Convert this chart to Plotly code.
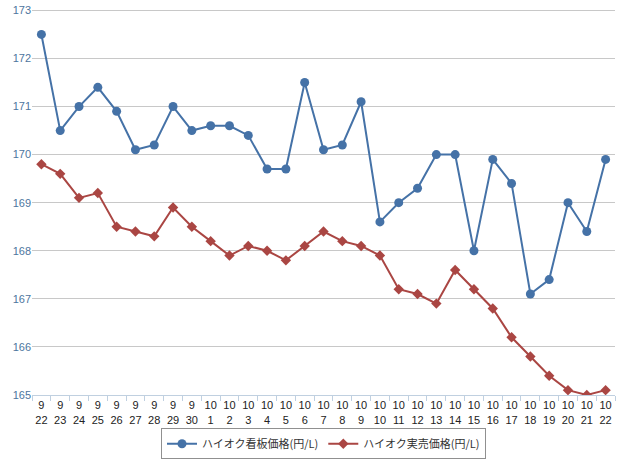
import plotly.graph_objects as go

months = [9]*9 + [10]*22
days = [22,23,24,25,26,27,28,29,30] + list(range(1, 23))
categories = [f"{m}/{d}" for m, d in zip(months, days)]
tick_labels = [f"{m}<br>{d}" for m, d in zip(months, days)]

signboard = [172.5,170.5,171.0,171.4,170.9,170.1,170.2,171.0,170.5,170.6,170.6,170.4,169.7,169.7,171.5,170.1,170.2,171.1,168.6,169.0,169.3,170.0,170.0,168.0,169.9,169.4,167.1,167.4,169.0,168.4,169.9]
actual = [169.8,169.6,169.1,169.2,168.5,168.4,168.3,168.9,168.5,168.2,167.9,168.1,168.0,167.8,168.1,168.4,168.2,168.1,167.9,167.2,167.1,166.9,167.6,167.2,166.8,166.2,165.8,165.4,165.1,165.0,165.1]

font_main = "Liberation Sans, Arial, Noto Sans CJK JP, sans-serif"

fig = go.Figure()
fig.add_trace(go.Scatter(x=categories, y=signboard, mode="lines+markers",
                         name="ハイオク看板価格(円/L)",
                         line=dict(color="#4572A7", width=2),
                         marker=dict(symbol="circle", size=9, color="#4572A7")))
fig.add_trace(go.Scatter(x=categories, y=actual, mode="lines+markers",
                         name="ハイオク実売価格(円/L)",
                         line=dict(color="#AA4643", width=2),
                         marker=dict(symbol="diamond", size=8, color="#AA4643")))

fig.update_layout(
    width=640, height=467,
    margin=dict(l=32, r=25, t=8, b=72, autoexpand=False),
    paper_bgcolor="white", plot_bgcolor="white",
    font=dict(family=font_main, size=11, color="#222"),
    showlegend=True,
    legend=dict(orientation="h", x=0.5, xanchor="center", y=-0.086, yanchor="top",
                bordercolor="#909090", borderwidth=1, bgcolor="white",
                font=dict(family="Noto Sans CJK JP, sans-serif", size=11, color="#333"),
                itemwidth=30, tracegroupgap=0),
    xaxis=dict(type="category", tickmode="array", tickvals=categories, ticktext=tick_labels,
               range=[-0.5, len(categories) - 0.5],
               tickangle=0, automargin=False,
               showgrid=False, showline=True, linecolor="#C0D0E0", linewidth=1,
               ticks="outside", tickson="boundaries", ticklen=5, tickcolor="#C0D0E0",
               tickfont=dict(size=11, color="#222"), fixedrange=True),
    yaxis=dict(range=[164.999, 173.05], tickmode="array",
               tickvals=[165, 166, 167, 168, 169, 170, 171, 172, 173],
               showgrid=True, gridcolor="#C8C8C8", gridwidth=1,
               zeroline=False, showline=False, ticks="", automargin=False,
               tickfont=dict(size=11, color="#4D759E"), fixedrange=True),
)

fig.write_html("out.html", config={"displayModeBar": False},
               post_script="document.body.style.margin='0px';")
